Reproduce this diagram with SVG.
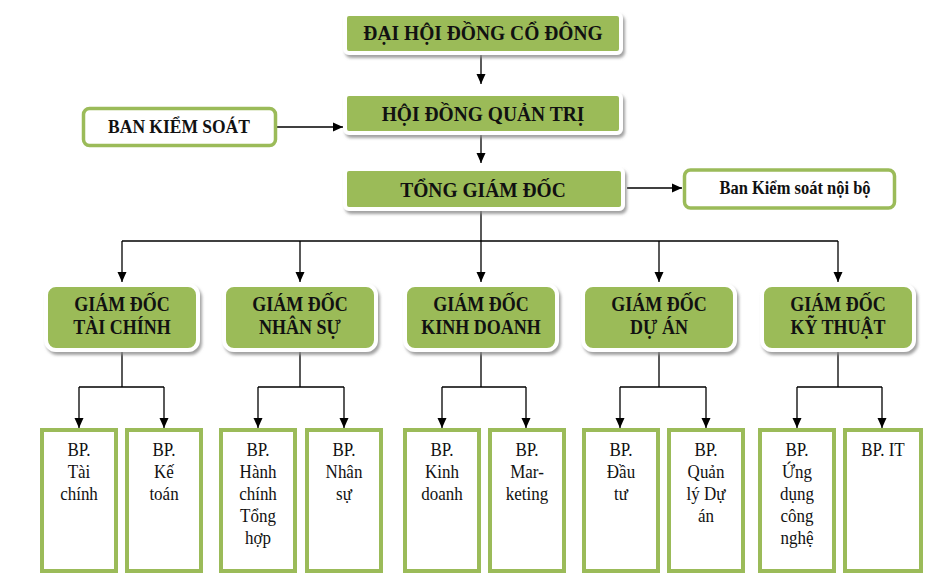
<svg xmlns="http://www.w3.org/2000/svg" width="939" height="578" viewBox="0 0 939 578">
<defs>
<filter id="sh" x="-10%" y="-20%" width="125%" height="150%">
<feDropShadow dx="2" dy="3" stdDeviation="1.6" flood-color="#8a8a8a" flood-opacity="0.8"/>
</filter>
<marker id="ah" markerUnits="userSpaceOnUse" markerWidth="10" markerHeight="10" refX="10" refY="5" orient="auto">
<path d="M0,0.5 L10,5 L0,9.5 z" fill="#000"/>
</marker>
<style>
.g{fill:#9BBB59;stroke:#fff;stroke-width:4;filter:url(#sh)}
.w{fill:#fff;stroke:#9BBB59;stroke-width:3.5}
.b{fill:#fff;stroke:#9BBB59;stroke-width:4}
text{font-family:'Liberation Serif',serif}
.t{font-weight:bold;text-anchor:middle;fill:#111}
.s{font-size:17px;text-anchor:middle;fill:#111}
.c line,.c path{stroke:#000;stroke-width:1.3;fill:none}
.c .a{marker-end:url(#ah)}
</style>
</defs>
<rect width="939" height="578" fill="#fff"/>

<g class="c" id="connectors">
<line class="a" x1="481" y1="55" x2="481" y2="84"/>
<line class="a" x1="277" y1="127" x2="343" y2="127"/>
<line class="a" x1="481" y1="135" x2="481" y2="163"/>
<line class="a" x1="627" y1="188" x2="682" y2="188"/>
<line x1="481" y1="211" x2="481" y2="241"/>
<line x1="122" y1="241" x2="838" y2="241"/>
<line class="a" x1="122" y1="241" x2="122" y2="282"/>
<line class="a" x1="300" y1="241" x2="300" y2="282"/>
<line class="a" x1="481" y1="241" x2="481" y2="282"/>
<line class="a" x1="659" y1="241" x2="659" y2="282"/>
<line class="a" x1="838" y1="241" x2="838" y2="282"/>
<path d="M122,352 V387 M79,387 H164 M300,352 V387 M258,387 H344 M481,352 V387 M442,387 H526 M659,352 V387 M620,387 H706 M838,352 V387 M797,387 H882"/>
<line class="a" x1="79" y1="387" x2="79" y2="428"/>
<line class="a" x1="164" y1="387" x2="164" y2="428"/>
<line class="a" x1="258" y1="387" x2="258" y2="428"/>
<line class="a" x1="344" y1="387" x2="344" y2="428"/>
<line class="a" x1="442" y1="387" x2="442" y2="428"/>
<line class="a" x1="526" y1="387" x2="526" y2="428"/>
<line class="a" x1="620" y1="387" x2="620" y2="428"/>
<line class="a" x1="706" y1="387" x2="706" y2="428"/>
<line class="a" x1="797" y1="387" x2="797" y2="428"/>
<line class="a" x1="882" y1="387" x2="882" y2="428"/>
</g>

<g id="dhdcd"><rect class="g" x="345" y="14" width="276" height="39" rx="4"/><text class="t" transform="translate(483,40) scale(1,1.1)" font-size="19.5">ĐẠI HỘI ĐỒNG CỔ ĐÔNG</text></g>
<g id="hdqt"><rect class="g" x="345" y="94" width="276" height="39" rx="4"/><text class="t" transform="translate(483,121) scale(1,1.1)" font-size="19.5">HỘI ĐỒNG QUẢN TRỊ</text></g>
<g id="bks"><rect class="w" x="83.5" y="108.5" width="192" height="37" rx="6"/><text class="t" transform="translate(179,133) scale(1,1.1)" font-size="17.5">BAN KIỂM SOÁT</text></g>
<g id="tgd"><rect class="g" x="345" y="169" width="278" height="40" rx="4"/><text class="t" transform="translate(483,197) scale(1,1.1)" font-size="19.5">TỔNG GIÁM ĐỐC</text></g>
<g id="bksnb"><rect class="w" x="684.5" y="170" width="210" height="38" rx="6"/><text class="t" transform="translate(795,194) scale(1,1.1)" font-size="16.5">Ban Kiểm soát nội bộ</text></g>

<g id="gdtc"><rect class="g" x="46" y="285" width="152" height="65" rx="10"/><g transform="translate(122,311) scale(1,1.12)"><text class="t" font-size="18">GIÁM ĐỐC</text><text class="t" y="20.5" font-size="18">TÀI CHÍNH</text></g></g>
<g id="gdns"><rect class="g" x="224" y="285" width="152" height="65" rx="10"/><g transform="translate(300,311) scale(1,1.12)"><text class="t" font-size="18">GIÁM ĐỐC</text><text class="t" y="20.5" font-size="18">NHÂN SỰ</text></g></g>
<g id="gdkd"><rect class="g" x="405" y="285" width="152" height="65" rx="10"/><g transform="translate(481,311) scale(1,1.12)"><text class="t" font-size="18">GIÁM ĐỐC</text><text class="t" y="20.5" font-size="18">KINH DOANH</text></g></g>
<g id="gdda"><rect class="g" x="583" y="285" width="152" height="65" rx="10"/><g transform="translate(659,311) scale(1,1.12)"><text class="t" font-size="18">GIÁM ĐỐC</text><text class="t" y="20.5" font-size="18">DỰ ÁN</text></g></g>
<g id="gdkt"><rect class="g" x="762" y="285" width="152" height="65" rx="10"/><g transform="translate(838,311) scale(1,1.12)"><text class="t" font-size="18">GIÁM ĐỐC</text><text class="t" y="20.5" font-size="18">KỸ THUẬT</text></g></g>

<g id="bp-taichinh"><rect class="b" x="42" y="430" width="74" height="141"/><g transform="translate(79,456) scale(1,1.15)"><text class="s">BP.</text><text class="s" y="19.1">Tài</text><text class="s" y="38.3">chính</text></g></g>
<g id="bp-ketoan"><rect class="b" x="127" y="430" width="74" height="141"/><g transform="translate(164,456) scale(1,1.15)"><text class="s">BP.</text><text class="s" y="19.1">Kế</text><text class="s" y="38.3">toán</text></g></g>
<g id="bp-hanhchinh"><rect class="b" x="221" y="430" width="74" height="141"/><g transform="translate(258,456) scale(1,1.15)"><text class="s">BP.</text><text class="s" y="19.1">Hành</text><text class="s" y="38.3">chính</text><text class="s" y="57.4">Tổng</text><text class="s" y="76.5">hợp</text></g></g>
<g id="bp-nhansu"><rect class="b" x="307" y="430" width="74" height="141"/><g transform="translate(344,456) scale(1,1.15)"><text class="s">BP.</text><text class="s" y="19.1">Nhân</text><text class="s" y="38.3">sự</text></g></g>
<g id="bp-kinhdoanh"><rect class="b" x="405" y="430" width="74" height="141"/><g transform="translate(442,456) scale(1,1.15)"><text class="s">BP.</text><text class="s" y="19.1">Kinh</text><text class="s" y="38.3">doanh</text></g></g>
<g id="bp-marketing"><rect class="b" x="490" y="430" width="74" height="141"/><g transform="translate(527,456) scale(1,1.15)"><text class="s">BP.</text><text class="s" y="19.1">Mar-</text><text class="s" y="38.3">keting</text></g></g>
<g id="bp-dautu"><rect class="b" x="584" y="430" width="74" height="141"/><g transform="translate(621,456) scale(1,1.15)"><text class="s">BP.</text><text class="s" y="19.1">Đầu</text><text class="s" y="38.3">tư</text></g></g>
<g id="bp-quanlyduan"><rect class="b" x="669" y="430" width="74" height="141"/><g transform="translate(706,456) scale(1,1.15)"><text class="s">BP.</text><text class="s" y="19.1">Quản</text><text class="s" y="38.3">lý Dự</text><text class="s" y="57.4">án</text></g></g>
<g id="bp-ungdung"><rect class="b" x="760" y="430" width="74" height="141"/><g transform="translate(797,456) scale(1,1.15)"><text class="s">BP.</text><text class="s" y="19.1">Ứng</text><text class="s" y="38.3">dụng</text><text class="s" y="57.4">công</text><text class="s" y="76.5">nghệ</text></g></g>
<g id="bp-it"><rect class="b" x="845" y="430" width="76" height="141"/><g transform="translate(883,456) scale(1,1.15)"><text class="s">BP. IT</text></g></g>
</svg>
